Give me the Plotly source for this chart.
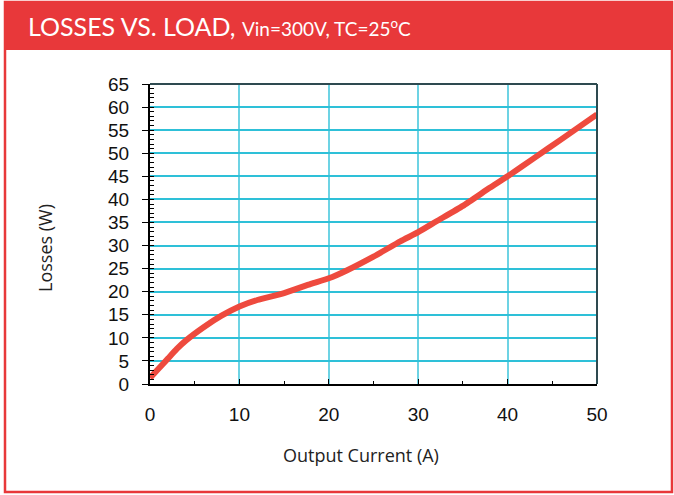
import plotly.graph_objects as go

# output current (A) and losses (W)
current = [0, 1, 2, 3, 4, 6, 8, 10, 12, 15, 18, 20, 22, 25, 28, 30, 32, 35, 38, 40, 43, 46, 50]
losses = [1.3, 3.4, 5.5, 7.6, 9.4, 12.3, 14.8, 16.8, 18.2, 19.7, 21.7, 22.9, 24.6, 27.6, 30.9, 32.9, 35.2, 38.6, 42.5, 45.0, 49.0, 53.0, 58.4]

x_ticks = [0, 10, 20, 30, 40, 50]
y_ticks = list(range(0, 70, 5))

W, H = 674, 495
L, R, T, B = 150, 597, 84, 384  # plot area in pixels

red = "#e8383a"


def px(x):
    return (x - L) / (R - L)


def py(y):
    return (B - y) / (B - T)


fig = go.Figure(
    data=[
        go.Scatter(x=current, y=losses, mode="lines",
                   line=dict(color="#ee4a3e", width=6, shape="spline", smoothing=0.5),
                   showlegend=False),
    ],
    layout={
        "width": W,
        "height": H,
        "margin": dict(l=L, r=W - R, t=T, b=H - B),
        "paper_bgcolor": "white",
        "plot_bgcolor": "white",
        "title": dict(
            text="LOSSES VS. LOAD, <span style='font-size:19px'>Vin=300V, TC=25<sup>o</sup>C</span>",
            font=dict(family="Lato", size=25, color="white"),
            xref="container", yref="container", x=28 / W, y=1 - 27 / H,
            xanchor="left", yanchor="middle",
        ),
        "xaxis": dict(
            range=[0, 50], tickvals=x_ticks, showgrid=True, gridcolor="#6dd3e4", gridwidth=2,
            showline=True, linecolor="black", linewidth=2, zeroline=False,
            ticks="inside", ticklen=5, tickcolor="black", ticklabelstandoff=12,
            minor=dict(dtick=5, ticks="inside", ticklen=3, tickcolor="black", showgrid=False),
            tickfont=dict(family="Liberation Sans", size=19, color="#111"),
        ),
        "yaxis": dict(
            range=[0, 65], tickvals=y_ticks, showgrid=True, gridcolor="#2ec0d8", gridwidth=1.5,
            showline=True, linecolor="black", linewidth=2, zeroline=False,
            ticks="outside", ticklen=6, tickcolor="black", ticklabelstandoff=9,
            minor=dict(dtick=1, ticks="inside", ticklen=4, tickcolor="black", showgrid=False),
            tickfont=dict(family="Liberation Sans", size=19, color="#111"),
        ),
        "annotations": [
            dict(text="Losses (W)", textangle=-90, xref="paper", yref="paper",
                 x=px(45), y=py(248), xanchor="center", yanchor="middle", showarrow=False,
                 font=dict(family="Open Sans", size=18, color="#222")),
            dict(text="Output Current (A)", xref="paper", yref="paper",
                 x=px(361), y=py(455), xanchor="center", yanchor="middle", showarrow=False,
                 font=dict(family="Open Sans", size=18, color="#222")),
        ],
        "shapes": [
            dict(type="rect", xref="paper", yref="paper", layer="below",
                 x0=px(5), x1=px(672), y0=py(492), y1=py(2),
                 line=dict(color=red, width=2.5), fillcolor="rgba(0,0,0,0)"),
            dict(type="rect", xref="paper", yref="paper", layer="below",
                 x0=px(4), x1=px(673), y0=py(50), y1=py(2),
                 line=dict(width=0), fillcolor=red),
            dict(type="line", xref="paper", yref="paper", x0=0, x1=1, y0=1, y1=1,
                 line=dict(color="#2e4a50", width=2)),
            dict(type="line", xref="paper", yref="paper", x0=1, x1=1, y0=0, y1=1,
                 line=dict(color="#2e4a50", width=2)),
        ],
    },
)

fig.write_html("out.html", config={"displayModeBar": False},
               post_script="document.body.style.margin='0';")
